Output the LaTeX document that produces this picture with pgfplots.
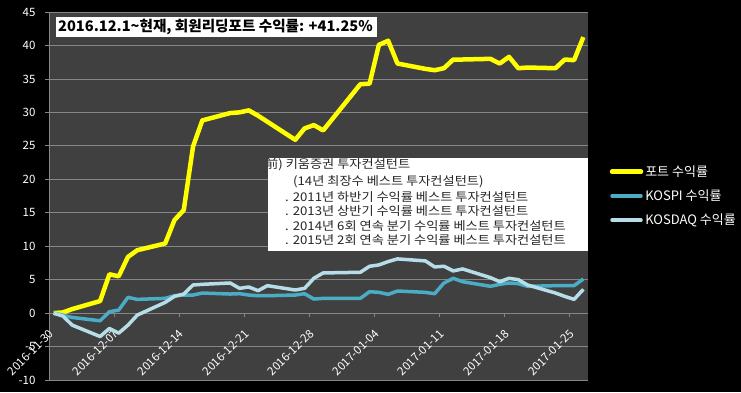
\documentclass[border=0pt]{standalone}
\usepackage{fontspec}
\setmainfont{Noto Sans CJK KR}
\usepackage{pgfplots}
\pgfplotsset{compat=1.18}
\usepackage{pgfplotstable}
\definecolor{plotbg}{HTML}{404040}
\definecolor{gridc}{HTML}{868686}
\definecolor{kospi}{HTML}{4BACC6}
\definecolor{kosdaq}{HTML}{B7DEE8}
\definecolor{port}{HTML}{FFFF00}
\pgfplotstableread{
d port kospi kosdaq
0 0 0 0
1 0.1 -0.3 -0.45
2 0.6 -0.65 -1.8
5 1.8 -1.15 -3.5
6 5.8 0.2 -2.3
7 5.5 0.45 -3.0
8 8.4 2.35 -1.8
9 9.4 2.05 -0.3
12 10.4 2.2 1.6
13 13.9 2.6 2.5
14 15.4 2.7 2.85
15 24.9 2.7 4.2
16 28.8 3.0 4.3
19 29.9 2.85 4.5
20 30.0 2.9 3.7
21 30.3 2.7 3.9
22 29.5 2.6 3.35
23 28.6 2.6 4.1
26 25.9 2.7 3.45
27 27.6 2.9 3.7
28 28.1 2.1 5.2
29 27.3 2.2 6.0
33 34.2 2.2 6.1
34 34.3 3.2 7.0
35 40.1 3.1 7.2
36 40.7 2.8 7.7
37 37.3 3.3 8.1
40 36.5 3.1 7.8
41 36.3 2.9 6.9
42 36.6 4.5 7.0
43 37.9 5.2 6.3
44 37.9 4.7 6.6
47 38.0 4.0 5.3
48 37.3 4.3 4.7
49 38.3 4.5 5.2
50 36.6 4.4 5.0
51 36.7 4.0 4.2
54 36.6 4.1 3.0
55 37.9 4.1 2.5
56 37.8 4.1 2.05
57 41.25 5.1 3.55
}\datatable
\begin{document}
\begin{tikzpicture}
\useasboundingbox (0,0) rectangle (741pt,392pt);
\fill[black] (0,0) rectangle (741pt,392pt);
\begin{axis}[
  at={(49pt,12pt)}, anchor=south west,
  scale only axis, width=539pt, height=368pt,
  xmin=-0.5, xmax=57.5, ymin=-10, ymax=45,
  axis x line=middle, axis y line=left,
  hide obscured x ticks=false, hide obscured y ticks=false,
  axis line style={-, draw=gridc, line width=0.8pt},
  axis background/.style={fill=plotbg},
  ymajorgrids, grid style={gridc, line width=0.8pt},
  ytick={-10,-5,...,45},
  xtick={-0.5,6.5,13.5,20.5,27.5,34.5,41.5,48.5,55.5},
  xticklabels={2016-11-30,2016-12-07,2016-12-14,2016-12-21,2016-12-28,2017-01-04,2017-01-11,2017-01-18,2017-01-25},
  tick align=outside, major tick length=4pt,
  tick style={gridc, line width=0.8pt},
  /pgf/number format/assume math mode=true,
  ticklabel style={font=\fontsize{11.5}{13}\selectfont, text=white},
  yticklabel style={xshift=-6pt},
  xticklabel shift=12pt,
  xticklabel style={xshift=5pt, rotate=45, anchor=east},
  legend style={at={(1.04,0.589)}, anchor=north west, fill=black, draw=none,
    text=white, font=\fontsize{13}{15}\selectfont, row sep=8pt, inner sep=0pt},
  legend cell align=left,
  legend image code/.code={\draw[#1, line cap=round] (0pt,0pt) -- (29pt,0pt);},
  line join=round,
]
\addplot[port, line width=4.5pt] table[x=d, y=port] {\datatable};
\addlegendentry{포트 수익률}
\addplot[kospi, line width=3.5pt] table[x=d, y=kospi] {\datatable};
\addlegendentry{KOSPI 수익률}
\addplot[kosdaq, line width=3.5pt] table[x=d, y=kosdaq] {\datatable};
\addlegendentry{KOSDAQ 수익률}
\end{axis}
\fill[white] (56pt,355pt) rectangle (377pt,375pt);
\node[anchor=west, inner sep=0pt, text=black, font=\fontsize{14.6}{16}\selectfont\bfseries] at (58pt,365pt) {2016.12.1\textasciitilde 현재, 회원리딩포트 수익률: +41.25\%};
\begin{scope}
\clip (268pt,141pt) rectangle (588pt,234pt);
\fill[white] (268pt,141pt) rectangle (588pt,234pt);
\begin{scope}[every node/.style={anchor=west, inner sep=0pt, text=black!85, font=\fontsize{12}{14}\selectfont\addfontfeature{FakeStretch=1.1}}]
\node at (265pt,227pt) {前) 키움증권 투자컨설턴트};
\node at (293pt,210pt) {(14년 최장수 베스트 투자컨설턴트)};
\node at (285pt,195pt) {. 2011년 하반기 수익률 베스트 투자컨설턴트};
\node at (285pt,181pt) {. 2013년 상반기 수익률 베스트 투자컨설턴트};
\node at (285pt,166pt) {. 2014년 6회 연속 분기 수익률 베스트 투자컨설턴트};
\node at (285pt,152pt) {. 2015년 2회 연속 분기 수익률 베스트 투자컨설턴트};
\end{scope}
\end{scope}
\end{tikzpicture}
\end{document}
